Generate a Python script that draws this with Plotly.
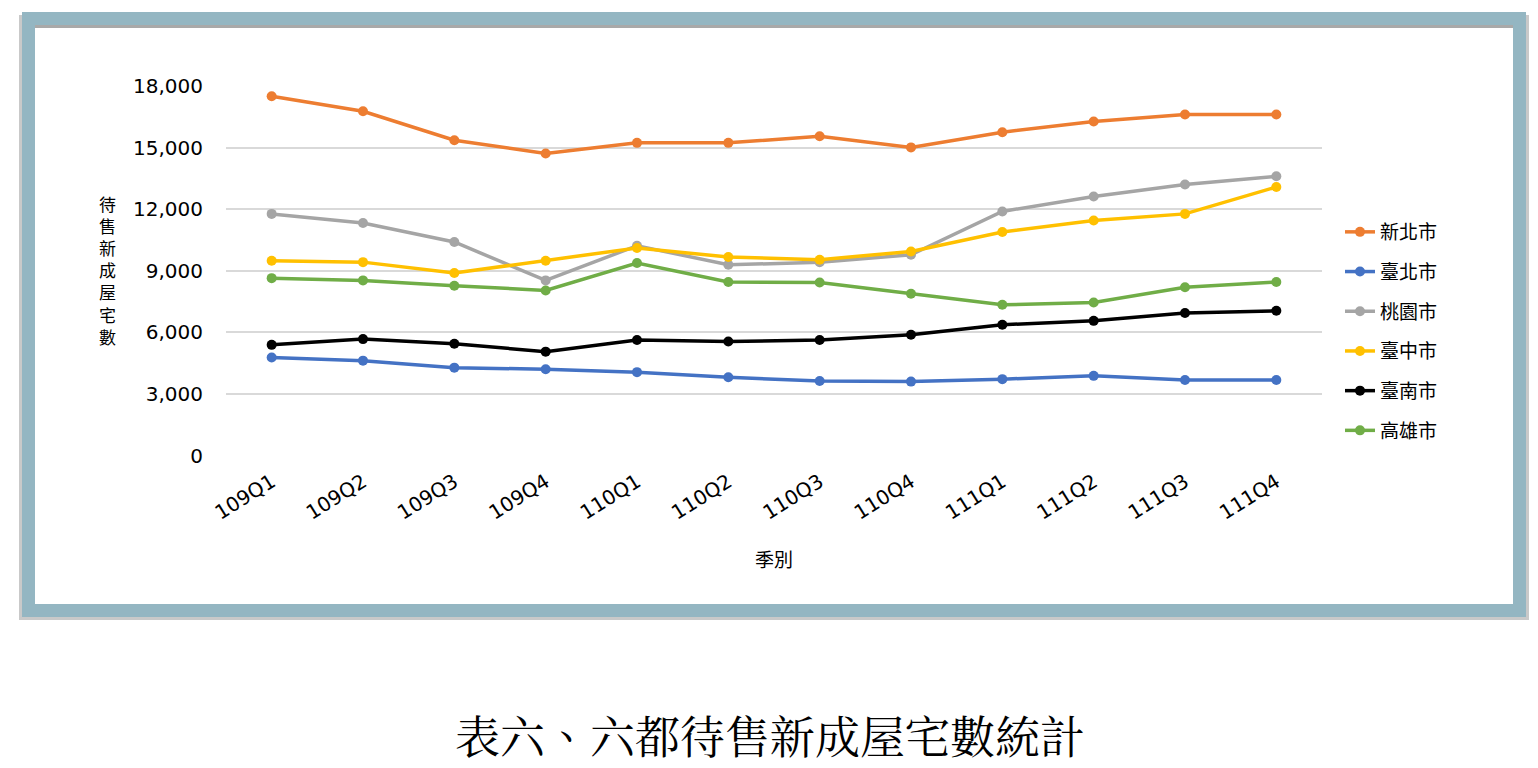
import plotly.graph_objects as go

W, H = 1538, 768

quarters = ["109Q1", "109Q2", "109Q3", "109Q4", "110Q1", "110Q2",
            "110Q3", "110Q4", "111Q1", "111Q2", "111Q3", "111Q4"]

new_taipei = [17500, 16770, 15360, 14710, 15230, 15230, 15550, 15010, 15750, 16270, 16610, 16610]
taipei     = [4770, 4620, 4280, 4200, 4060, 3810, 3630, 3600, 3720, 3880, 3680, 3680]
taoyuan    = [11770, 11330, 10400, 8530, 10220, 9290, 9410, 9780, 11890, 12620, 13200, 13600]
taichung   = [9490, 9420, 8890, 9490, 10110, 9670, 9540, 9940, 10890, 11450, 11770, 13080]
tainan     = [5390, 5670, 5440, 5060, 5630, 5550, 5630, 5880, 6370, 6560, 6940, 7050]
kaohsiung  = [8640, 8530, 8270, 8040, 9380, 8450, 8430, 7880, 7340, 7450, 8200, 8450]

series_names = ["新北市", "臺北市", "桃園市", "臺中市", "臺南市", "高雄市"]
series_values = [new_taipei, taipei, taoyuan, taichung, tainan, kaohsiung]
series_colors = ["#ED7D31", "#4472C4", "#A5A5A5", "#FFC000", "#000000", "#70AD47"]

y_ticks = [0, 3000, 6000, 9000, 12000, 15000, 18000]
y_tick_text = ["0", "3,000", "6,000", "9,000", "12,000", "15,000", "18,000"]

y_axis_title = "待售新成屋宅數"
x_axis_title = "季別"
caption = "表六、六都待售新成屋宅數統計"

FONT = "DejaVu Sans, Noto Sans CJK TC"
CJK = "Noto Sans CJK TC"

fig = go.Figure()
for i, (name, vals, col) in enumerate(zip(series_names, series_values, series_colors)):
    fig.add_trace(go.Scatter(
        x=quarters, y=vals, name=name, mode="lines+markers",
        line=dict(color=col, width=3.5),
        marker=dict(color=col, size=10),
        legendgroup=f"g{i}",
    ))

def px(x):
    return x / W

def py(y):
    return 1 - y / H

shapes = []
# shadow of the frame
shapes.append(dict(type="rect", xref="paper", yref="paper",
                   x0=px(25.5), x1=px(1522.5), y0=py(21.5), y1=py(613.5),
                   line=dict(color="rgba(120,120,120,0.4)", width=13), layer="below"))
# frame
shapes.append(dict(type="rect", xref="paper", yref="paper",
                   x0=px(28.5), x1=px(1519.5), y0=py(18.5), y1=py(610.5),
                   line=dict(color="#94B6C2", width=13), layer="below"))
# inner top shadow
shapes.append(dict(type="line", xref="paper", yref="paper",
                   x0=px(35), x1=px(1513), y0=py(26.5), y1=py(26.5),
                   line=dict(color="rgba(110,110,110,0.35)", width=3), layer="below"))

annotations = [
    dict(text="<br>".join(list(y_axis_title)), xref="paper", yref="paper",
         x=px(107), y=py(270), showarrow=False, xanchor="center", yanchor="middle",
         font=dict(size=17, family=CJK), align="center"),
    dict(text=x_axis_title, xref="paper", yref="paper",
         x=px(774), y=py(558), showarrow=False, xanchor="center", yanchor="middle",
         font=dict(size=19, family=CJK)),
    dict(text=caption, xref="paper", yref="paper",
         x=px(770), y=py(734), showarrow=False, xanchor="center", yanchor="middle",
         font=dict(size=45, family="Noto Serif CJK TC, Noto Sans CJK TC")),
]

fig.update_layout(
    width=W, height=H,
    margin=dict(l=0, r=0, t=0, b=0, pad=0, autoexpand=False),
    paper_bgcolor="white", plot_bgcolor="white",
    font=dict(family=FONT, color="#000000", size=18),
    shapes=shapes,
    showlegend=True,
    legend=dict(x=px(1340), y=py(213), xanchor="left", yanchor="top",
                font=dict(size=19, family=CJK),
                tracegroupgap=12, bgcolor="rgba(0,0,0,0)"),
    xaxis=dict(domain=[px(226), px(1322)], type="category", automargin=False,
               range=[-0.5, 11.5], showgrid=False, zeroline=False,
               showline=False, ticks="", tickangle=-32,
               tickfont=dict(size=20, family=FONT),
               ticklabelstandoff=10),
    yaxis=dict(domain=[py(455.5), py(86)], range=[0, 18000], automargin=False,
               tickvals=y_ticks, ticktext=y_tick_text,
               showgrid=True, gridcolor="#D9D9D9", gridwidth=1.5,
               zeroline=False, showline=False, ticks="",
               tickfont=dict(size=20, family=FONT),
               ticklabelstandoff=22),
    annotations=annotations,
)

fig.write_html(
    "out.html",
    post_script="document.body.style.margin='0';document.body.style.overflow='hidden';",
)
